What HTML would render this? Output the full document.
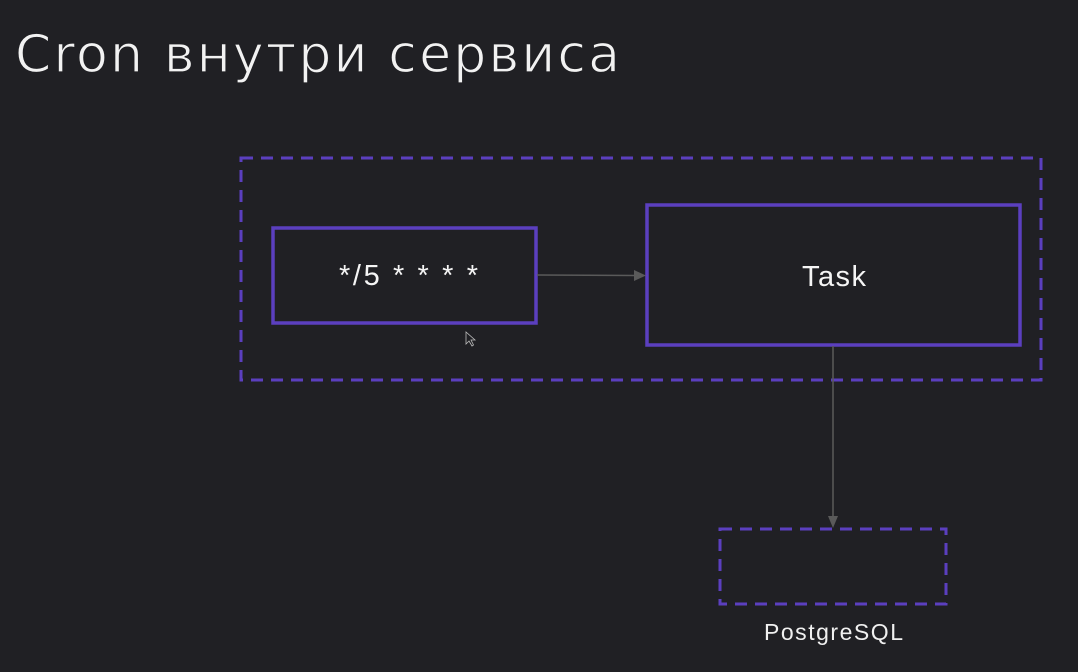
<!DOCTYPE html>
<html><head><meta charset="utf-8"><style>
html,body{margin:0;padding:0;background:#202024;width:1078px;height:672px;overflow:hidden}
svg{display:block}
</style></head><body>
<svg width="1078" height="672" viewBox="0 0 1078 672" xmlns="http://www.w3.org/2000/svg">
<rect width="1078" height="672" fill="#202024"/>
<text x="15" y="72" textLength="605" lengthAdjust="spacing" font-family="DejaVu Sans, sans-serif" font-size="52" fill="#f2f2f2" stroke="#202024" stroke-width="1.2">Cron внутри сервиса</text>
<rect x="241" y="158" width="800" height="222" fill="none" stroke="#5b3fbf" stroke-width="3" stroke-dasharray="12 8"/>
<rect x="273" y="228" width="263" height="95" fill="none" stroke="#5b3fbf" stroke-width="3.5"/>
<text x="339" y="285" textLength="139" lengthAdjust="spacing" font-family="Liberation Sans, sans-serif" font-size="29" fill="#f5f5f5">*/5 * * * *</text>
<rect x="647" y="205" width="373" height="140" fill="none" stroke="#5b3fbf" stroke-width="3.5"/>
<text x="802" y="286" textLength="64" lengthAdjust="spacing" font-family="Liberation Sans, sans-serif" font-size="29" fill="#f5f5f5">Task</text>
<line x1="537" y1="275" x2="636" y2="275.5" stroke="#5a5a5a" stroke-width="1.5"/>
<polygon points="634,270 646,275.5 634,281" fill="#5a5a5a"/>
<line x1="833" y1="346" x2="833" y2="518" stroke="#5a5a5a" stroke-width="1.5"/>
<polygon points="828,516 833,528 838,516" fill="#5a5a5a"/>
<rect x="720" y="529" width="226" height="75" fill="none" stroke="#5b3fbf" stroke-width="3" stroke-dasharray="12 8"/>
<text x="764" y="640" textLength="139" lengthAdjust="spacing" font-family="Liberation Sans, sans-serif" font-size="23" fill="#f0f0f0">PostgreSQL</text>
<path d="M466,332 L466,344 L469,341 L472,346 L473.5,345 L471,340 L475,340 Z" fill="#202024" stroke="#bbb" stroke-width="0.8"/>
</svg>
</body></html>
